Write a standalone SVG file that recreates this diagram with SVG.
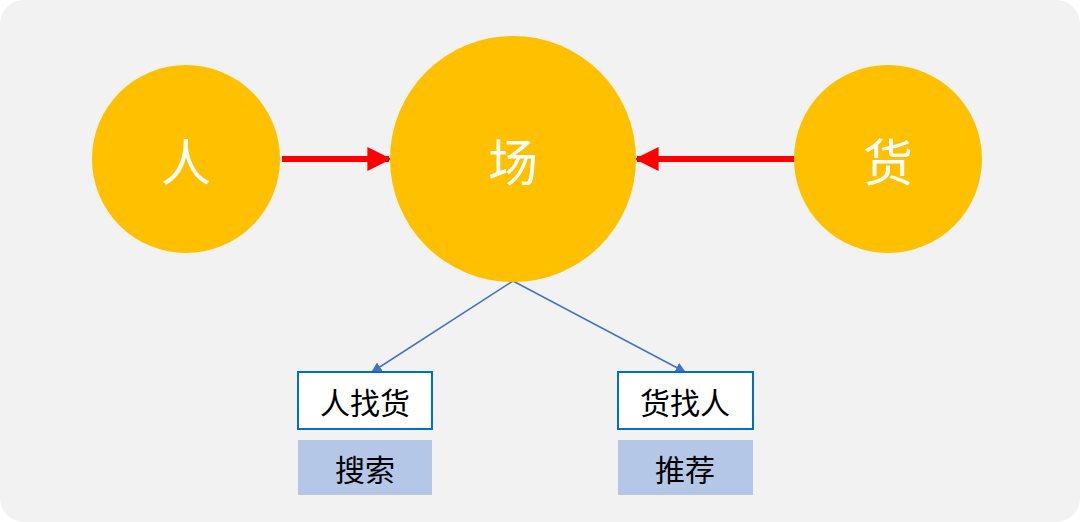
<svg xmlns="http://www.w3.org/2000/svg" width="1080" height="522" viewBox="0 0 1080 522">
<style>
.c{fill:#ffc000}
.t{font-family:"Noto Sans CJK SC",sans-serif;text-anchor:middle;dominant-baseline:central}
.big{fill:#fff;font-size:50px}
.sm{fill:#000;font-size:30px}
.bx{fill:#fff;stroke:#0070c0;stroke-width:2}
.bl{fill:#b4c7e7}
</style>
<defs>
<marker id="ra" viewBox="0 0 10 10" refX="9" refY="5" markerWidth="4" markerHeight="4" orient="auto" markerUnits="strokeWidth"><path d="M0,0L10,5L0,10z" fill="#ff0000"/></marker>
<marker id="ba" viewBox="0 0 10 10" refX="9" refY="5" markerWidth="7" markerHeight="7" orient="auto" markerUnits="strokeWidth"><path d="M0,0L10,5L0,10z" fill="#4472c4"/></marker>
</defs>
<rect x="0" y="0" width="1080" height="522" rx="24" fill="#f2f2f2"/>
<g id="connectors">
<line x1="282" y1="159" x2="389" y2="159" stroke="#ff0000" stroke-width="6" marker-end="url(#ra)"/>
<line x1="795" y1="159" x2="637" y2="159" stroke="#ff0000" stroke-width="6" marker-end="url(#ra)"/>
<line x1="513" y1="281" x2="372" y2="372" stroke="#4472c4" stroke-width="1.5" marker-end="url(#ba)"/>
<line x1="513" y1="281" x2="685" y2="372" stroke="#4472c4" stroke-width="1.5" marker-end="url(#ba)"/>
</g>
<g id="ren"><circle class="c" cx="186" cy="159" r="94"/><text class="t big" x="186" y="159">人</text></g>
<g id="chang"><circle class="c" cx="513" cy="159" r="123"/><text class="t big" x="513" y="159">场</text></g>
<g id="huo"><circle class="c" cx="888" cy="159" r="94"/><text class="t big" x="888" y="159">货</text></g>
<g id="renzhaohuo"><rect class="bx" x="298" y="372" width="134" height="57"/><text class="t sm" x="365" y="401">人找货</text></g>
<g id="huozhaoren"><rect class="bx" x="618" y="372" width="135" height="57"/><text class="t sm" x="685" y="401">货找人</text></g>
<g id="sousuo"><rect class="bl" x="298" y="440" width="134" height="55"/><text class="t sm" x="365" y="468">搜索</text></g>
<g id="tuijian"><rect class="bl" x="618" y="440" width="135" height="55"/><text class="t sm" x="685" y="468">推荐</text></g>
</svg>
